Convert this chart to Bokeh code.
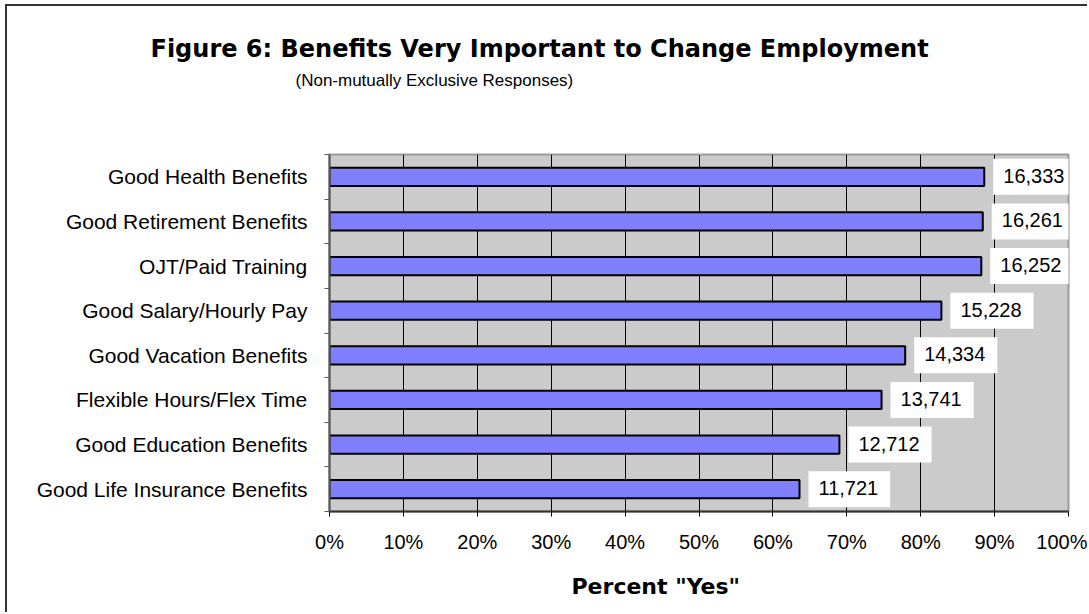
from bokeh.plotting import figure
from bokeh.models import Range1d, FixedTicker, Label, ColumnDataSource, Title, LinearAxis
from bokeh.embed import file_html
from bokeh.resources import INLINE

# ---- data ----
categories = [
    "Good Health Benefits",
    "Good Retirement Benefits",
    "OJT/Paid Training",
    "Good Salary/Hourly Pay",
    "Good Vacation Benefits",
    "Flexible Hours/Flex Time",
    "Good Education Benefits",
    "Good Life Insurance Benefits",
]
percent_yes = [88.6, 88.4, 88.2, 82.8, 77.9, 74.7, 69.0, 63.6]
counts = [16333, 16261, 16252, 15228, 14334, 13741, 12712, 11721]
x_ticks = [0, 10, 20, 30, 40, 50, 60, 70, 80, 90, 100]
x_tick_labels = ["0%", "10%", "20%", "30%", "40%", "50%", "60%", "70%", "80%", "90%", "100%"]

title_text = "Figure 6: Benefits Very Important to Change Employment"
subtitle_text = "(Non-mutually Exclusive Responses)"
xaxis_title = 'Percent "Yes"'

# ---- layout (pixels, relative to the figure canvas, which sits at (7, 6) on the page) ----
OX, OY = 7, 6
W, H = 1089 - OX, 614 - OY
L, R, T, B = 329 - OX, 1068 - OX, 154 - OY, 511 - OY
n = len(categories)

FONT = "Liberation Sans"
BOLD = "DejaVu Sans"

p = figure(width=W, height=H, x_range=Range1d(0, 100), y_range=Range1d(0, n),
           output_backend="svg", toolbar_location=None,
           min_border_left=L, min_border_right=W - R,
           min_border_top=T, min_border_bottom=H - B)
p.styles = {"border-left": "2px solid #333333", "border-top": "2px solid #333333",
            "margin-left": "5px", "margin-top": "4px"}

p.background_fill_color = "#cbcbcb"
p.border_fill_color = "white"
p.outline_line_color = "#9a9a9a"
p.outline_line_width = 2

y_centers = [n - i - 0.5 for i in range(n)]
src = ColumnDataSource(dict(y=y_centers, pct=percent_yes))

p.hbar(y="y", left=0, right="pct", height=0.41, source=src,
       fill_color="#8080ff", line_color="black", line_width=2)

# x axis
p.xaxis.ticker = FixedTicker(ticks=x_ticks, minor_ticks=[])
p.xaxis.major_label_overrides = {t: s for t, s in zip(x_ticks, x_tick_labels)}
p.xaxis.major_tick_out = 5
p.xaxis.major_tick_in = 0
p.xaxis.major_tick_line_color = "black"
p.xaxis.axis_line_color = "#333333"
p.xaxis.axis_line_width = 2
p.xaxis.major_label_standoff = 14
p.xaxis.major_label_text_font = FONT
p.xaxis.major_label_text_font_size = "20px"
p.xaxis.major_label_text_color = "black"

# y axis
p.yaxis.ticker = FixedTicker(ticks=y_centers, minor_ticks=list(range(n + 1)))
p.yaxis.major_label_overrides = {y: c for y, c in zip(y_centers, categories)}
p.yaxis.major_tick_out = 0
p.yaxis.major_tick_in = 0
p.yaxis.minor_tick_out = 5
p.yaxis.minor_tick_in = 0
p.yaxis.minor_tick_line_color = "#555555"
p.yaxis.axis_line_color = "#555555"
p.yaxis.axis_line_width = 2
p.yaxis.major_label_standoff = 17
p.yaxis.major_label_text_font = FONT
p.yaxis.major_label_text_font_size = "21px"
p.yaxis.major_label_text_color = "black"

# grid
p.xgrid.ticker = FixedTicker(ticks=x_ticks)
p.xgrid.grid_line_color = "black"
p.xgrid.grid_line_width = 1
p.ygrid.grid_line_color = None

# data labels
for yc, v, c in zip(y_centers, percent_yes, counts):
    p.add_layout(Label(x=v, y=yc, text=f"{c:,}", x_offset=9, y_offset=0,
                       text_align="left", text_baseline="middle",
                       text_font=FONT, text_font_size="20px", text_color="black",
                       background_fill_color="white",
                       padding=(10, 12, 10, 12)))

# empty space between plot area and subtitle (white-tick axis used as a spacer)
spacer = LinearAxis(ticker=FixedTicker(ticks=[50], minor_ticks=[]),
                    axis_line_color=None, major_tick_line_color="white",
                    major_tick_line_width=1,
                    minor_tick_line_color=None, major_tick_out=63, major_tick_in=0,
                    minor_tick_out=0, minor_tick_in=0, major_label_standoff=0,
                    major_label_text_color=None, major_label_text_font_size="1px",
                    axis_label_standoff=0)
p.add_layout(spacer, "above")

# titles (outside the plot area -> side panels)
p.add_layout(Title(text=subtitle_text, align="left", offset=(295 - OX) - L,
                   text_font=FONT, text_font_style="normal", text_font_size="17px",
                   text_color="black", standoff=4), "above")
p.add_layout(Title(text=title_text, align="left", offset=(150 - OX) - L,
                   text_font=BOLD, text_font_style="bold", text_font_size="24px",
                   text_color="black", standoff=8), "above")
p.add_layout(Title(text=xaxis_title, align="left", offset=(571 - OX) - L,
                   text_font=BOLD, text_font_style="bold", text_font_size="22px",
                   text_color="black", standoff=32), "below")

open("out.html", "w").write(file_html(p, INLINE))
